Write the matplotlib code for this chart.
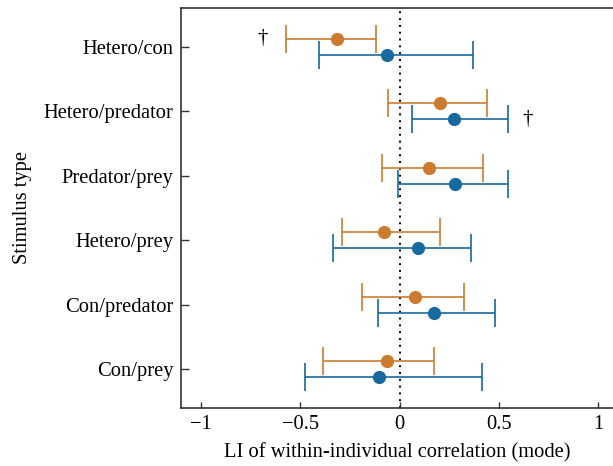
import matplotlib
matplotlib.use("Agg")
import matplotlib.pyplot as plt
import numpy as np

plt.rcParams['font.family'] = ['Liberation Serif', 'DejaVu Serif']

# categories bottom -> top
categories = ['Con/prey', 'Con/predator', 'Hetero/prey', 'Predator/prey', 'Hetero/predator', 'Hetero/con']

orange_mode = [-0.064, 0.077, -0.077, 0.148, 0.203, -0.317]
orange_low = [-0.386, -0.190, -0.288, -0.087, -0.060, -0.573]
orange_high = [0.173, 0.322, 0.205, 0.420, 0.440, -0.121]

blue_mode = [-0.102, 0.173, 0.094, 0.277, 0.275, -0.065]
blue_low = [-0.474, -0.107, -0.333, -0.007, 0.060, -0.407]
blue_high = [0.416, 0.478, 0.360, 0.545, 0.545, 0.367]

# daggers: (category, series offset sign, x position)
daggers = [('Hetero/con', 1, -0.69), ('Hetero/predator', -1, 0.645)]

orange = '#cc7b2e'
blue = '#17699f'
off = 0.125
fs = 14.8

fig = plt.figure(figsize=(6.13, 4.66), dpi=100)
# axes run past the right edge of the picture (no right spine visible)
ax = fig.add_axes([0.2953, 0.1245, 0.72, 0.8585])

y = np.arange(len(categories))

ax.axvline(0, color='black', linestyle=(0, (1, 2.5)), linewidth=1.4, zorder=1)

for mode, lo, hi, col, dy in [(orange_mode, orange_low, orange_high, orange, off),
                              (blue_mode, blue_low, blue_high, blue, -off)]:
    mode = np.array(mode)
    xerr = [mode - np.array(lo), np.array(hi) - mode]
    ax.errorbar(mode, y + dy, xerr=xerr, fmt='o', color=col, ecolor=col,
                markersize=8.5, capsize=10, elinewidth=1.2, capthick=1.2, zorder=3)

for cat, s, xv in daggers:
    ax.text(xv, categories.index(cat) + s * off, '\u2020', fontsize=15,
            ha='center', va='center')

ax.set_xlim(-1.1, -1.1 + 0.72 * 613 / 198.7)
ax.set_ylim(-0.6, 5.6)
ax.set_yticks(y)
ax.set_yticklabels(categories, fontsize=fs)
ax.set_xticks([-1, -0.5, 0, 0.5, 1])
ax.set_xticklabels(['\u22121', '\u22120.5', '0', '0.5', '1'], fontsize=fs)
ax.tick_params(axis='y', direction='in', length=6, width=1, color='#333333', pad=5.5)
ax.tick_params(axis='x', direction='in', length=4.5, width=1, color='#333333', pad=5)
for sp in ax.spines.values():
    sp.set_color('#333333')
    sp.set_linewidth(1.2)

ax.set_xlabel('LI of within-individual correlation (mode)', fontsize=fs)
ax.set_ylabel('Stimulus type', fontsize=fs, labelpad=8)
# keep the x label centred where it sits in the reference
ax.xaxis.set_label_coords((397.5 - 181) / (0.72 * 613), -0.088)

fig.savefig('out.png', dpi=100)
